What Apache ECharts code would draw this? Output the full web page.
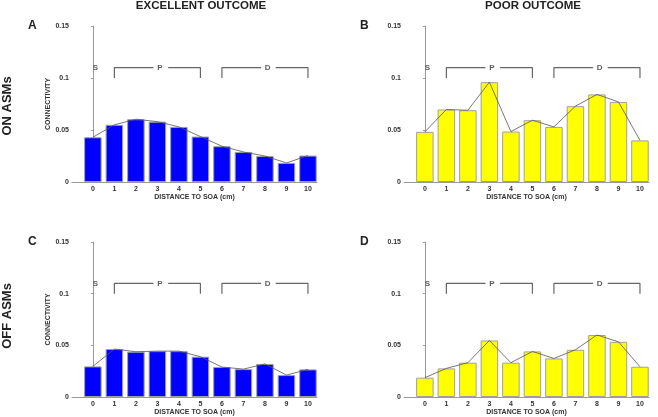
<!DOCTYPE html>
<html>
<head>
<meta charset="utf-8">
<script src="https://cdn.jsdelivr.net/npm/echarts@6/dist/echarts.min.js"></script>
<style>
  html, body { margin: 0; padding: 0; background: #fff; }
  #chart { width: 658px; height: 417px; }
</style>
</head>
<body>
<div id="chart"></div>
<script>
// distance bins (cm) and mean connectivity per bin
const distances = [0, 1, 2, 3, 4, 5, 6, 7, 8, 9, 10];
const onExcellent = [0.043, 0.055, 0.0604, 0.058, 0.053, 0.0437, 0.0344, 0.0289, 0.025, 0.0183, 0.0254];
const onPoor = [0.0482, 0.0697, 0.069, 0.096, 0.0485, 0.0594, 0.053, 0.0729, 0.0842, 0.077, 0.040];
const offExcellent = [0.0296, 0.0464, 0.0438, 0.0444, 0.0444, 0.039, 0.029, 0.027, 0.032, 0.0212, 0.0267];
const offPoor = [0.0187, 0.0277, 0.0332, 0.0547, 0.0332, 0.0441, 0.0373, 0.0457, 0.060, 0.0534, 0.0293];
const yTicks = [0, 0.05, 0.1, 0.15];

// S / P / D zones drawn as brackets above the bars
const zoneLabels = ['S', 'P', 'D'];
const zoneFrom = [0, 1, 6];
const zoneTo = [0, 5, 10];
const bracketTop = 0.11;
const bracketFoot = 0.1;

const panels = [
  { letter: 'A', data: onExcellent, color: '#0000ff', left: 72, top: 26, yName: true },
  { letter: 'B', data: onPoor, color: '#ffff00', left: 404, top: 26, yName: false },
  { letter: 'C', data: offExcellent, color: '#0000ff', left: 72, top: 242, yName: true },
  { letter: 'D', data: offPoor, color: '#ffff00', left: 404, top: 242, yName: false }
];

const font = 'Liberation Sans, Arial, sans-serif';
const chart = echarts.init(document.getElementById('chart'));

const grid = [], xAxis = [], yAxis = [], series = [], graphic = [];

panels.forEach((p, i) => {
  grid.push({ left: p.left, top: p.top, width: 245, height: 156 });
  xAxis.push({
    type: 'value', gridIndex: i, min: -0.97, max: 10.42,
    name: 'DISTANCE TO SOA (cm)', nameLocation: 'middle', nameGap: 12,
    nameTextStyle: { fontFamily: font, fontWeight: 'bold', fontSize: 7, color: '#333' },
    axisLine: { show: true, lineStyle: { color: '#999', width: 1 } },
    axisTick: { show: false },
    splitLine: { show: false },
    axisLabel: {
      customValues: distances, margin: 4,
      fontFamily: font, fontWeight: 'bold', fontSize: 7, color: '#333'
    }
  });
  yAxis.push({
    type: 'value', gridIndex: i, min: yTicks[0], max: yTicks[yTicks.length - 1], interval: 0.05,
    name: p.yName ? 'CONNECTIVITY' : '', nameLocation: 'middle', nameGap: 18,
    nameTextStyle: { fontFamily: font, fontWeight: 'bold', fontSize: 7, color: '#333' },
    axisLine: { show: true, lineStyle: { color: '#999', width: 1 } },
    axisTick: { show: true, length: 2, lineStyle: { color: '#999' } },
    splitLine: { show: false },
    axisLabel: { margin: 3, fontFamily: font, fontWeight: 'bold', fontSize: 7, color: '#333' }
  });

  const pts = distances.map((d, k) => [d, p.data[k]]);
  series.push({
    type: 'bar', xAxisIndex: i, yAxisIndex: i, data: pts, barWidth: 17.5,
    itemStyle: { color: p.color, borderColor: '#a0a0a0', borderWidth: 1 },
    silent: true
  });
  series.push({
    type: 'line', xAxisIndex: i, yAxisIndex: i, data: pts, symbol: 'none',
    lineStyle: { color: '#555', width: 0.8 }, z: 3, silent: true
  });

  // brackets with their zone letter
  zoneLabels.forEach((lab, z) => {
    const mid = (zoneFrom[z] + zoneTo[z]) / 2 + 0.12;
    if (zoneTo[z] > zoneFrom[z]) {
      series.push({
        type: 'line', xAxisIndex: i, yAxisIndex: i, symbol: 'none', silent: true,
        lineStyle: { color: '#666', width: 1.2 },
        data: [[zoneFrom[z], bracketFoot], [zoneFrom[z], bracketTop], [mid - 0.3, bracketTop]]
      });
      series.push({
        type: 'line', xAxisIndex: i, yAxisIndex: i, symbol: 'none', silent: true,
        lineStyle: { color: '#666', width: 1.2 },
        data: [[mid + 0.38, bracketTop], [zoneTo[z], bracketTop], [zoneTo[z], bracketFoot]]
      });
    }
    series.push({
      type: 'scatter', xAxisIndex: i, yAxisIndex: i, symbolSize: 0, silent: true,
      data: [{ name: lab, value: [mid, bracketTop] }],
      label: {
        show: true, position: 'inside', formatter: '{b}',
        fontFamily: font, fontWeight: 'bold', fontSize: 8, color: '#333'
      }
    });
  });

  graphic.push({
    type: 'text', left: p.left - 44, top: p.top - 6,
    style: { text: p.letter, font: 'bold 12px ' + font, fill: '#222' }
  });
});

// column titles and row labels
graphic.push({
  type: 'text', x: 201, y: 6,
  style: { text: 'EXCELLENT OUTCOME', font: 'bold 11.5px ' + font, fill: '#222', align: 'center', verticalAlign: 'middle' }
});
graphic.push({
  type: 'text', x: 533, y: 6,
  style: { text: 'POOR OUTCOME', font: 'bold 11.5px ' + font, fill: '#222', align: 'center', verticalAlign: 'middle' }
});
graphic.push({
  type: 'text', x: 7, y: 106, rotation: Math.PI / 2,
  style: { text: 'ON ASMs', font: 'bold 13px ' + font, fill: '#222', align: 'center', verticalAlign: 'middle' }
});
graphic.push({
  type: 'text', x: 7, y: 316, rotation: Math.PI / 2,
  style: { text: 'OFF ASMs', font: 'bold 13px ' + font, fill: '#222', align: 'center', verticalAlign: 'middle' }
});

chart.setOption({
  animation: false,
  backgroundColor: '#fff',
  grid: grid,
  xAxis: xAxis,
  yAxis: yAxis,
  series: series,
  graphic: graphic
});
</script>
</body>
</html>
